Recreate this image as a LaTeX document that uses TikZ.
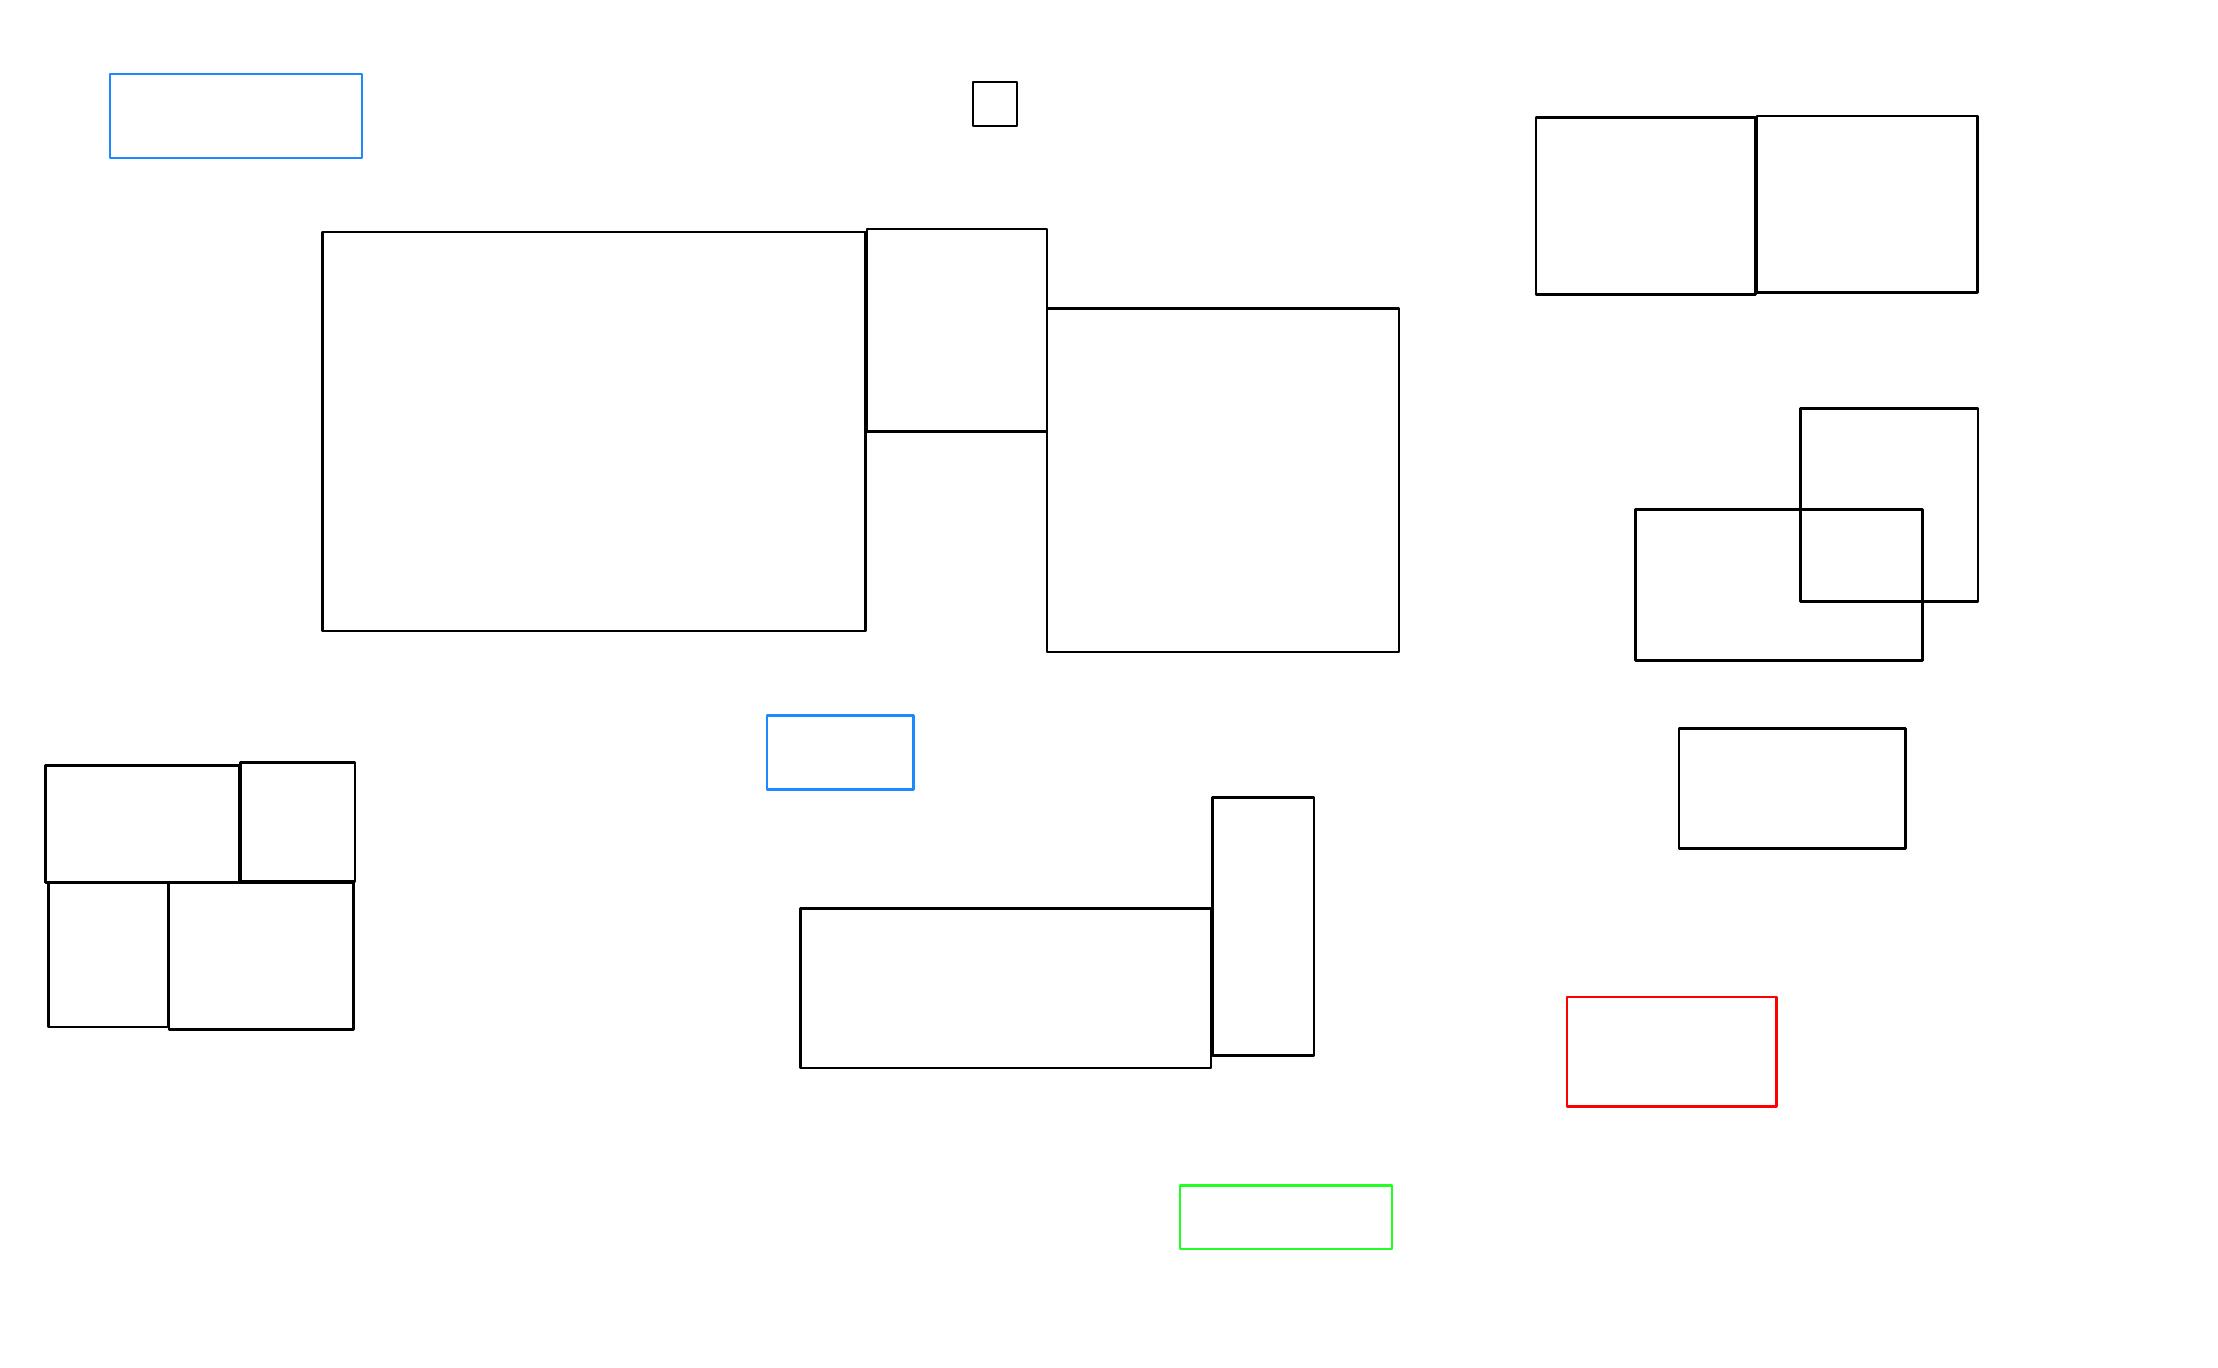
\documentclass[tikz,border=0pt]{standalone}
\definecolor{bblue}{RGB}{30,136,255}
\definecolor{bgreen}{RGB}{34,255,34}
\definecolor{bred}{RGB}{255,0,0}
\tikzset{box/.style={draw=black,line width=1.4pt,line join=round}}
\begin{document}
\begin{tikzpicture}[x=0.5pt,y=-0.5pt]
\useasboundingbox[fill=white] (0,0) rectangle (2218,1367);
\draw[box,draw=bblue] (110,74) rectangle (362,158);
\draw[box] (973,82) rectangle (1017,126);
\draw[box] (322.5,232) rectangle (865.7,631);
\draw[box] (867,229) rectangle (1047,431.4);
\draw[box] (1047,308.4) rectangle (1399,652);
\draw[box] (1536,117.4) rectangle (1755.4,294.2);
\draw[box] (1757,116) rectangle (1977.5,292.8);
\draw[box] (1800.7,408.8) rectangle (1978,601.2);
\draw[box] (1635.2,509.2) rectangle (1922.4,660.6);
\draw[box] (1679,728.5) rectangle (1905.4,848.7);
\draw[box,draw=bred] (1567,997) rectangle (1776.7,1106.2);
\draw[box,draw=bgreen] (1180,1185.4) rectangle (1392,1249);
\draw[box,draw=bblue] (767,715.8) rectangle (913.8,789.3);
\draw[box] (1212.3,797.8) rectangle (1314,1055.2);
\draw[box] (800.6,908.1) rectangle (1210.9,1068);
\draw[box] (45.3,765.3) rectangle (239,882.7);
\draw[box] (240.5,762.4) rectangle (355,881.3);
\draw[box] (48.1,882.7) rectangle (168,1027);
\draw[box] (169,882.7) rectangle (353.6,1029.8);
\end{tikzpicture}
\end{document}
